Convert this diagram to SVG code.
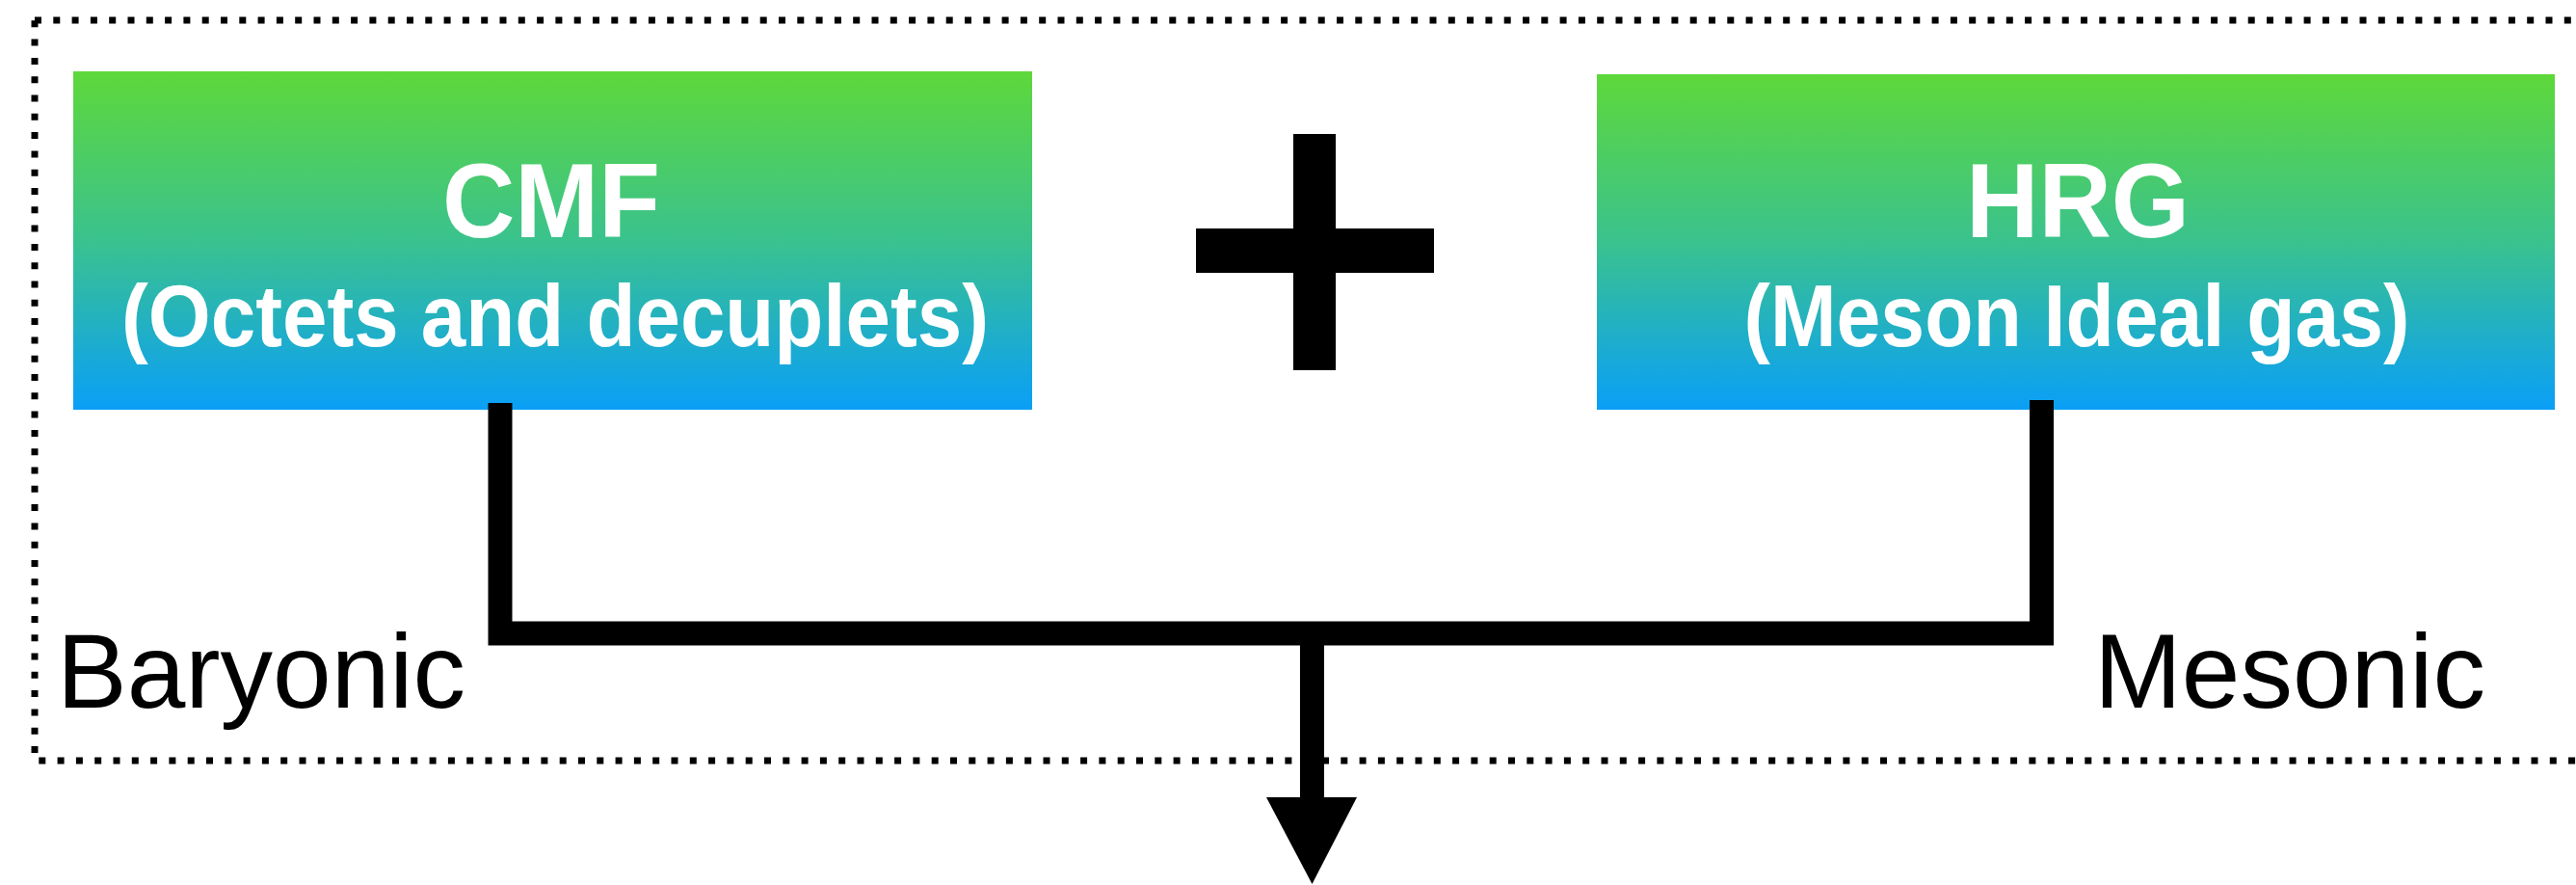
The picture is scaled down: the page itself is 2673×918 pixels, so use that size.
<svg xmlns="http://www.w3.org/2000/svg" width="2673" height="918" viewBox="0 0 2673 918">
  <defs>
    <linearGradient id="boxGrad" x1="0" y1="0" x2="0" y2="1">
      <stop offset="0" stop-color="#5ED83A"/>
      <stop offset="0.5" stop-color="#3AC28E"/>
      <stop offset="1" stop-color="#0A9FF7"/>
    </linearGradient>
  </defs>
  <style>
    .frame { fill: none; stroke: #000; stroke-width: 7; stroke-dasharray: 7 12.3; }
    .box { fill: url(#boxGrad); }
    .title { font-family: "Liberation Sans", Arial, sans-serif; font-weight: bold; font-size: 110px; fill: #fff; text-anchor: middle; }
    .sub { font-family: "Liberation Sans", Arial, sans-serif; font-weight: bold; font-size: 90px; fill: #fff; text-anchor: middle; }
    .label { font-family: "Liberation Sans", Arial, sans-serif; font-size: 109px; fill: #000; }
    .conn { fill: none; stroke: #000; stroke-width: 25; stroke-linejoin: miter; stroke-linecap: butt; }
  </style>
  <rect width="2673" height="918" fill="#fff"/>
  <rect class="frame" x="36" y="21" width="2700" height="768"/>

  <g id="cmf">
    <rect class="box" x="76" y="74" width="995" height="351"/>
    <text class="title" x="572" y="246" textLength="226" lengthAdjust="spacingAndGlyphs">CMF</text>
    <text class="sub" x="576" y="359" textLength="900" lengthAdjust="spacingAndGlyphs">(Octets and decuplets)</text>
  </g>

  <g id="hrg">
    <rect class="box" x="1657" y="77" width="994" height="348"/>
    <text class="title" x="2156" y="246" textLength="232" lengthAdjust="spacingAndGlyphs">HRG</text>
    <text class="sub" x="2155" y="359" textLength="691" lengthAdjust="spacingAndGlyphs">(Meson Ideal gas)</text>
  </g>

  <g id="plus">
    <rect x="1342" y="139" width="44" height="245" fill="#000"/>
    <rect x="1241" y="237" width="247" height="46" fill="#000"/>
  </g>

  <g id="labels">
    <text class="label" x="59" y="734">Baryonic</text>
    <text class="label" x="2173" y="734">Mesonic</text>
  </g>

  <g id="connectors">
    <path class="conn" d="M519,418 V657 H2118.5 V415"/>
    <path class="conn" d="M1361.5,657 V830"/>
    <polygon points="1314,827 1408,827 1361.5,917" fill="#000"/>
  </g>
</svg>
